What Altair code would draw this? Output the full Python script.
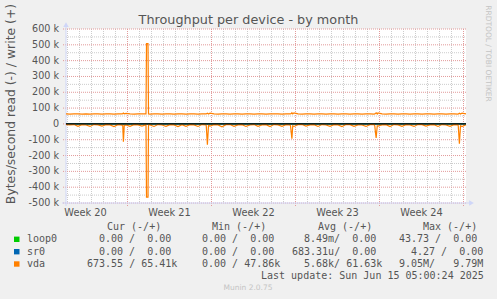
import altair as alt
import pandas as pd

# ---------------- data ----------------
SAMPLE_HOURS = list(range(0, 801, 8))  # hours since graph start (2h/pixel)
VDA_WRITE_K = [
    63, 62, 63, 64, 62, 63, 62, 64, 63, 62,
    63, 64, 62, 63, 63, 67, 63, 62, 64, 63,
    63, 62, 63, 64, 62, 63, 63, 62, 64, 63,
    62, 63, 64, 62, 63, 63, 68, 63, 62, 63,
    64, 62, 63, 63, 62, 64, 63, 62, 63, 64,
    62, 63, 63, 64, 62, 63, 63, 70, 63, 62,
    63, 64, 62, 63, 63, 62, 64, 63, 62, 63,
    63, 62, 64, 63, 62, 63, 63, 62, 70, 63,
    62, 63, 64, 62, 63, 63, 62, 64, 63, 62,
    63, 64, 62, 63, 63, 62, 64, 63, 62, 68, 63,
]
VDA_READ_K = [
    -5, -6, -4, -15, -5, -7, -16, -4, -6, -14,
    -5, -6, -17, -5, -8, -6, -15, -5, -6, -14,
    -5, -6, -16, -4, -7, -15, -5, -6, -17, -5,
    -15, -5, -6, -16, -4, -7, -14, -5, -6, -18,
    -5, -4, -15, -6, -5, -16, -7, -4, -15, -6,
    -5, -17, -4, -6, -15, -5, -7, -16, -5, -4,
    -14, -6, -5, -16, -4, -7, -15, -5, -6, -17,
    -4, -5, -15, -6, -7, -16, -5, -4, -14, -6,
    -5, -17, -4, -6, -15, -5, -7, -16, -4, -5,
    -14, -6, -5, -16, -4, -7, -15, -5, -6, -17, -5,
]
SPIKE_HOURS = [113.5, 114.8, 116.5, 161, 164, 165, 280.5, 282.8, 285,
               449, 450.5, 451.8, 453.5, 617.5, 619, 620.3, 622.5, 784.5, 786.8, 789]
SPIKE_WRITE_K = [64, 68, 64, 508, 508, 63, 63, 67, 63,
                 63, 65, 70, 63, 63, 66, 70, 63, 63, 68, 63]
SPIKE_READ_K = [-10, -113, -10, -463, -463, -6, -10, -132, -10,
                -12, -55, -94, -12, -12, -55, -88, -12, -12, -125, -12]

ZERO_HOURS = [0, 800]
LOOP0_K = [0, 0]
SR0_K = [0, 0]

Y_TICKS = [-500, -400, -300, -200, -100, 0, 100, 200, 300, 400, 500, 600]
Y_TICK_LABELS = ["-500 k", "-400 k", "-300 k", "-200 k", "-100 k", "0",
                 "100 k", "200 k", "300 k", "400 k", "500 k", "600 k"]
Y_MINOR = [-450, -350, -250, -150, -50, 50, 150, 250, 350, 450, 550]
WEEK_LABELS = ["Week 20", "Week 21", "Week 22", "Week 23", "Week 24"]
WEEK_MID_HOURS = [39, 207, 375, 543, 711]
WEEK_START_HOURS = [123, 291, 459, 627, 795]
DAY_HOURS = [h for h in range(3, 800, 24) if h not in WEEK_START_HOURS]

SERIES = ["loop0", "sr0", "vda"]
SERIES_COLORS = ["#00CC00", "#0066B3", "#FF8000"]
HEADERS = ["Cur (-/+)", "Min (-/+)", "Avg (-/+)", "Max (-/+)"]
CUR = ["0.00 /  0.00", "0.00 /  0.00", "673.55 / 65.41k"]
MIN = ["0.00 /  0.00", "0.00 /  0.00", "0.00 / 47.86k"]
AVG = ["8.49m/  0.00", "683.31u/  0.00", "5.68k/ 61.63k"]
MAX = ["43.73 /  0.00", "4.27 /  0.00", "9.05M/   9.79M"]
LAST_UPDATE = "Last update: Sun Jun 15 05:00:24 2025"

# ---------------- layout ----------------
OX, OY = 66, 29
W, H = 400, 174
SANS = "DejaVu Sans"
MONO = "DejaVu Sans Mono"
FG = "#555555"

xs = alt.Scale(domain=[0, 800], nice=False, zero=False)
ys = alt.Scale(domain=[-500, 600], nice=False, zero=False)

one = pd.DataFrame({"k": [0]})


def txt(s, X, Y, size, color=FG, font=SANS, align="left", baseline="middle", angle=0):
    mk = dict(text=s, fontSize=size, font=font, color=color, align=align, baseline=baseline)
    if angle:
        mk["angle"] = angle
    return alt.Chart(one).mark_text(**mk).encode(x=alt.value(X - OX), y=alt.value(Y - OY))


def nb(s):
    return s.replace(" ", "\u00a0")


base = pd.DataFrame({"h": SAMPLE_HOURS, "w": VDA_WRITE_K, "r": VDA_READ_K})
spk = pd.DataFrame({"h": SPIKE_HOURS, "w": SPIKE_WRITE_K, "r": SPIKE_READ_K})
vda = pd.concat([base, spk]).sort_values("h").reset_index(drop=True)

layers = []

# grid
layers.append(alt.Chart(pd.DataFrame({"v": Y_MINOR})).mark_rule(
    color="#cccccc", strokeDash=[1, 1], strokeWidth=1).encode(
    y=alt.Y("v:Q", scale=ys, axis=None), x=alt.value(0), x2=alt.value(W)))
layers.append(alt.Chart(pd.DataFrame({"h": DAY_HOURS})).mark_rule(
    color="#cccccc", strokeDash=[1, 1], strokeWidth=1).encode(
    x=alt.X("h:Q", scale=xs, axis=None), y=alt.value(0), y2=alt.value(H)))
layers.append(alt.Chart(pd.DataFrame({"v": Y_TICKS})).mark_rule(
    color="#e29a9a", strokeDash=[1, 1], strokeWidth=1).encode(
    y=alt.Y("v:Q", scale=ys, axis=None), x=alt.value(-3), x2=alt.value(W + 1)))
layers.append(alt.Chart(pd.DataFrame({"h": WEEK_START_HOURS})).mark_rule(
    color="#e29a9a", strokeDash=[1, 1], strokeWidth=1).encode(
    x=alt.X("h:Q", scale=xs, axis=None), y=alt.value(0), y2=alt.value(H + 3)))

# axes lines + arrows
layers.append(alt.Chart(pd.DataFrame({"h": [0]})).mark_rule(color="#CFD6F8").encode(
    x=alt.X("h:Q", scale=xs, axis=None), y=alt.value(H + 3), y2=alt.value(-5)))
layers.append(alt.Chart(pd.DataFrame({"v": [-500]})).mark_rule(color="#CFD6F8").encode(
    y=alt.Y("v:Q", scale=ys, axis=None), x=alt.value(-4), x2=alt.value(W + 4)))
layers.append(alt.Chart(pd.DataFrame({"h": [0], "v": [628]})).mark_point(
    shape="triangle-up", filled=True, size=30, color="#CFD6F8", opacity=1).encode(
    x=alt.X("h:Q", scale=xs, axis=None), y=alt.Y("v:Q", scale=ys, axis=None)))
layers.append(alt.Chart(pd.DataFrame({"h": [811], "v": [-500]})).mark_point(
    shape="triangle-right", filled=True, size=30, color="#CFD6F8", opacity=1).encode(
    x=alt.X("h:Q", scale=xs, axis=None), y=alt.Y("v:Q", scale=ys, axis=None)))

# series
zero = pd.DataFrame({"h": ZERO_HOURS, "loop0": LOOP0_K, "sr0": SR0_K})
layers.append(alt.Chart(zero).mark_line(color=SERIES_COLORS[0], strokeWidth=1).encode(
    x=alt.X("h:Q", scale=xs, axis=None), y=alt.Y("loop0:Q", scale=ys, axis=None)))
layers.append(alt.Chart(zero).mark_line(color=SERIES_COLORS[1], strokeWidth=1).encode(
    x=alt.X("h:Q", scale=xs, axis=None), y=alt.Y("sr0:Q", scale=ys, axis=None)))
layers.append(alt.Chart(vda).mark_line(color=SERIES_COLORS[2], strokeWidth=1.2).encode(
    x=alt.X("h:Q", scale=xs, axis=None), y=alt.Y("w:Q", scale=ys, axis=None)))
layers.append(alt.Chart(vda).mark_line(color=SERIES_COLORS[2], strokeWidth=1.2).encode(
    x=alt.X("h:Q", scale=xs, axis=None), y=alt.Y("r:Q", scale=ys, axis=None)))
layers.append(alt.Chart(pd.DataFrame({"v": [0]})).mark_rule(color="#000000", strokeWidth=1.3).encode(
    y=alt.Y("v:Q", scale=ys, axis=None), x=alt.value(0), x2=alt.value(W)))

# tick labels
layers.append(alt.Chart(pd.DataFrame({"v": Y_TICKS, "t": Y_TICK_LABELS})).mark_text(
    font=SANS, fontSize=9.6, color=FG, align="right", baseline="middle").encode(
    y=alt.Y("v:Q", scale=ys, axis=None), text="t:N", x=alt.value(-7)))
layers.append(alt.Chart(pd.DataFrame({"h": WEEK_MID_HOURS, "t": WEEK_LABELS})).mark_text(
    font=SANS, fontSize=9.8, color=FG, align="center", baseline="alphabetic").encode(
    x=alt.X("h:Q", scale=xs, axis=None), text="t:N", y=alt.value(215.7 - OY)))

# titles
layers.append(txt("Throughput per device - by month", 248.5, 24, 12.8, align="center", baseline="alphabetic"))
layers.append(txt("Bytes/second read (-) / write (+)", 10.5, 104, 12.4, align="center", angle=270))
layers.append(txt("RRDTOOL / TOBI OETIKER", 487.5, 53.5, 7.5, color="#c4c4c4", align="center", angle=90))

# legend
HEAD_X = [107, 212, 318, 423]
for s, x in zip(HEADERS, HEAD_X):
    layers.append(txt(nb(s), x, 227.3, 10, font=MONO))
ROW_Y = [239.3, 251.7, 264.0]
CELL_X = [[99, 202, 304, 399], [99, 202, 292, 411], [87, 202, 304, 399]]
for i, name in enumerate(SERIES):
    y = ROW_Y[i]
    layers.append(alt.Chart(one).mark_rect(color=SERIES_COLORS[i]).encode(
        x=alt.value(14 - OX), x2=alt.value(19.5 - OX), y=alt.value(y - 2.7 - OY), y2=alt.value(y + 2.7 - OY)))
    layers.append(txt(name, 27, y, 10, font=MONO))
    for j, col in enumerate([CUR, MIN, AVG, MAX]):
        layers.append(txt(nb(col[i]), CELL_X[i][j], y, 10, font=MONO))
layers.append(txt(nb(LAST_UPDATE), 261, 275.7, 10, font=MONO))
layers.append(txt("Munin 2.0.75", 248, 288.3, 7.5, color="#c4c4c4", align="center"))

chart = alt.layer(*layers).properties(
    width=W, height=H,
    autosize=alt.AutoSizeParams(type="none"),
    padding={"left": OX, "top": OY, "right": 497 - OX - W, "bottom": 299 - OY - H},
    background="#F0F0F0",
).configure_view(fill="#FFFFFF", stroke=None)

chart.save("out.html", embed_options={"renderer": "svg", "actions": False})
